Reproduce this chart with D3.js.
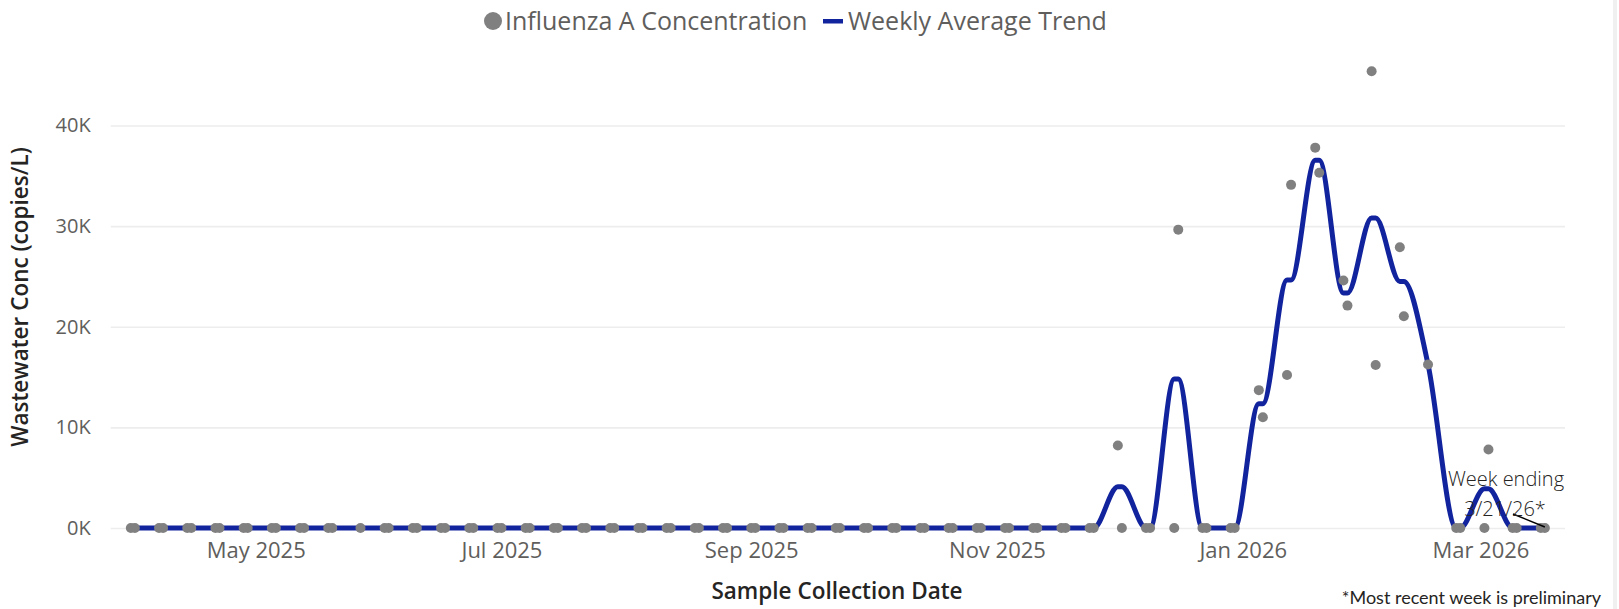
<!DOCTYPE html>
<html lang="en">
<head>
<meta charset="utf-8" />
<title>Influenza A Wastewater</title>
<style>
  body { margin:0; background:#fff; font-family:"Segoe UI","Open Sans",sans-serif; }
  svg  { display:block; }
  .tick text { fill:#605E5C; font-family:"Segoe UI","Open Sans",sans-serif; }
  .grid line { stroke:#EDEDED; stroke-width:1.6px; }
</style>
</head>
<body>
<svg width="1619" height="609"></svg>

<script src="https://cdn.jsdelivr.net/npm/d3@7"></script>
<script>
/* ---------- DATA (K = thousand copies/L) ---------- */
// one row per week, Monday of the week
const weekStarts = [
  "2025-03-31","2025-04-07","2025-04-14","2025-04-21","2025-04-28","2025-05-05","2025-05-12",
  "2025-05-19","2025-05-26","2025-06-02","2025-06-09","2025-06-16","2025-06-23","2025-06-30",
  "2025-07-07","2025-07-14","2025-07-21","2025-07-28","2025-08-04","2025-08-11","2025-08-18",
  "2025-08-25","2025-09-01","2025-09-08","2025-09-15","2025-09-22","2025-09-29","2025-10-06",
  "2025-10-13","2025-10-20","2025-10-27","2025-11-03","2025-11-10","2025-11-17","2025-11-24",
  "2025-12-01","2025-12-08","2025-12-15","2025-12-22","2025-12-29","2026-01-05","2026-01-12",
  "2026-01-19","2026-01-26","2026-02-02","2026-02-09","2026-02-16","2026-02-23","2026-03-02",
  "2026-03-09","2026-03-16"
];
// Monday sample, Tuesday sample (null = no sample)
const monSample = [
  0,0,0,0,0,0,0, 0,null,0,0,0,0,0, 0,0,0,0,0,0,0, 0,0,0,0,0,0,0, 0,0,0,0,0,0,0,
  8.19,0,0,0,0,13.7,15.2, 37.8,24.6,45.4,27.9,16.25,0,0, 0,0
];
const tueSample = [
  0,0,0,0,0,0,0, 0,0,0,0,0,0,0, 0,0,0,0,0,0,0, 0,0,0,0,0,0,0, 0,0,0,0,0,0,0,
  0,0,29.65,0,0,11.0,34.1, 35.3,22.1,16.2,21.05,null,0,7.8, 0,0
];
// weekly average trend
const weeklyAvg = [
  0,0,0,0,0,0,0, 0,0,0,0,0,0,0, 0,0,0,0,0,0,0, 0,0,0,0,0,0,0, 0,0,0,0,0,0,0,
  4.1,0,14.8,0,0,12.35,24.65, 36.55,23.35,30.8,24.5,16.25,0,3.9, 0,0
];
const yTicks = [0, 10, 20, 30, 40];
const xTicks = ["2025-05-01","2025-07-01","2025-09-01","2025-11-01","2026-01-01","2026-03-01"];

/* ---------- SCALES ---------- */
const parse = d3.utcParse("%Y-%m-%d");
const svg = d3.select("svg");
const plotL = 110.7, plotR = 1565, plotB = 528, plotT = 125.5;

const x = d3.scaleUtc()
  .domain([parse("2025-03-26"), parse("2026-03-22")])
  .range([plotL, plotR]);
const y = d3.scaleLinear().domain([0, 40]).range([plotB, plotT]);

// flatten to samples
const samples = [];
weekStarts.forEach((w, i) => {
  const mon = parse(w);
  const tue = d3.utcDay.offset(mon, 1);
  if (monSample[i] != null) samples.push({date: mon, v: monSample[i], avg: weeklyAvg[i]});
  if (tueSample[i] != null) samples.push({date: tue, v: tueSample[i], avg: weeklyAvg[i]});
});

/* ---------- AXES ---------- */
svg.append("g")
    .attr("class", "grid")
    .attr("transform", `translate(${plotL},0)`)
    .call(d3.axisLeft(y).tickValues(yTicks).tickSize(-(plotR - plotL)).tickPadding(20)
      .tickFormat(d => d + "K"))
    .call(g => g.select(".domain").remove())
    .call(g => g.selectAll("text").attr("font-size", 20));

svg.append("g")
    .attr("transform", `translate(0,${plotB})`)
    .call(d3.axisBottom(x).tickValues(xTicks.map(parse)).tickSize(0).tickPadding(14)
      .tickFormat(d3.utcFormat("%b %Y")))
    .call(g => g.select(".domain").remove())
    .call(g => g.selectAll("text").attr("font-size", 22));

// axis titles
svg.append("text")
    .attr("transform", "translate(28,297) rotate(-90)")
    .attr("text-anchor", "middle")
    .attr("font-size", 22.5).attr("font-weight", 600).attr("fill", "#252423")
    .text("Wastewater Conc (copies/L)");

svg.append("text")
    .attr("x", 837).attr("y", 599)
    .attr("text-anchor", "middle")
    .attr("font-size", 22.5).attr("font-weight", 600).attr("fill", "#252423")
    .text("Sample Collection Date");

/* ---------- TREND LINE ---------- */
svg.append("path")
    .datum(samples)
    .attr("fill", "none")
    .attr("stroke", "#12239E")
    .attr("stroke-width", 5)
    .attr("d", d3.line().x(d => x(d.date)).y(d => y(d.avg)).curve(d3.curveMonotoneX));

/* ---------- POINTS ---------- */
svg.append("g")
  .selectAll("circle")
  .data(samples)
  .join("circle")
    .attr("cx", d => x(d.date))
    .attr("cy", d => y(d.v))
    .attr("r", 5)
    .attr("fill", "#808080");

/* ---------- ANNOTATION ---------- */
const last = samples[samples.length - 1];
svg.append("line")
    .attr("x1", 1513).attr("y1", 514)
    .attr("x2", x(last.date)).attr("y2", y(last.avg) - 1)
    .attr("stroke", "#000").attr("stroke-width", 1.5);
const note = svg.append("text")
    .attr("text-anchor", "middle")
    .attr("font-size", 20).attr("font-weight", 300).attr("fill", "#252423");
note.append("tspan").attr("x", 1506).attr("y", 486).text("Week ending");
note.append("tspan").attr("x", 1505).attr("y", 516).text("3/21/26*");

svg.append("text")
    .attr("x", 1601).attr("y", 604)
    .attr("text-anchor", "end")
    .attr("font-family", "Lato, sans-serif")
    .attr("font-size", 18).attr("fill", "#252423")
    .text("*Most recent week is preliminary");

/* ---------- LEGEND ---------- */
const legend = svg.append("g").attr("font-size", 25).attr("fill", "#605E5C");
legend.append("circle").attr("cx", 493).attr("cy", 21).attr("r", 9).attr("fill", "#808080");
legend.append("text").attr("x", 505).attr("y", 30).text("Influenza A Concentration");
legend.append("rect").attr("x", 823).attr("y", 19).attr("width", 20).attr("height", 4.5).attr("fill", "#12239E");
legend.append("text").attr("x", 848).attr("y", 30).text("Weekly Average Trend");

// right frame edge
svg.append("rect").attr("x", 1613).attr("y", 0).attr("width", 4).attr("height", 609).attr("fill", "#F0F0F0");
</script>
</body>
</html>
